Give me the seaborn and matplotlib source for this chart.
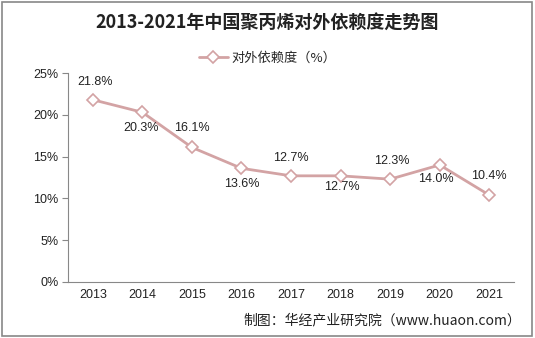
import matplotlib
matplotlib.use("Agg")
import matplotlib.pyplot as plt
import seaborn as sns
import pandas as pd
from matplotlib.patches import Rectangle

years = ["2013", "2014", "2015", "2016", "2017", "2018", "2019", "2020", "2021"]
values = [21.8, 20.3, 16.1, 13.6, 12.7, 12.7, 12.3, 14.0, 10.4]
y_ticks = [0, 5, 10, 15, 20, 25]
series_name = "对外依赖度（%）"
title = "2013-2021年中国聚丙烯对外依赖度走势图"
source = "制图：华经产业研究院（www.huaon.com）"

# label offsets in points (dx, dy)
offsets = [(2, 13), (-1, -11), (0, 14), (0, -11), (0, 13), (1, -8), (1, 13), (-3, -10), (0, 14)]

sns.set_theme(style="white")
plt.rcParams['font.family'] = ['Noto Sans CJK SC', 'DejaVu Sans']
num_font = ['Liberation Sans', 'DejaVu Sans']

fig = plt.figure(figsize=(5.35, 3.38), dpi=100)
ax = fig.add_axes([68/535, 1-282/338, (514-68)/535, (282-73)/338])

df = pd.DataFrame({"year": years, "value": values})
df["x"] = range(len(years))
color = "#d3a3a4"
sns.lineplot(data=df, x="x", y="value", ax=ax, color=color, linewidth=2.0,
             marker="D", markersize=6, markerfacecolor="white",
             markeredgecolor=color, markeredgewidth=1.2, label=series_name, legend=False)

for i, v in enumerate(values):
    dx, dy = offsets[i]
    ax.annotate(f"{v:.1f}%", (i, v), xytext=(dx, dy), textcoords="offset points",
                ha="center", va="center", fontsize=9, color="#222222",
                family=num_font)

ax.set_xlim(-0.5, len(years) - 0.5)
ax.set_ylim(0, 25)
ax.set_yticks(y_ticks)
ax.set_yticklabels([f"{t}%" for t in y_ticks], fontsize=9, color="#222222", family=num_font)
ax.set_xticks(range(len(years)))
ax.set_xticklabels(years, fontsize=9, color="#222222", family=num_font)
ax.set_xticks([i - 0.5 for i in range(len(years) + 1)], minor=True)
ax.tick_params(axis="x", which="major", length=0, pad=5)
ax.tick_params(axis="x", which="minor", length=4, color="#888888", width=0.8, direction="out")
ax.tick_params(axis="y", which="major", length=4, color="#888888", width=0.8, direction="out", left=True, pad=3)
ax.set_xlabel("")
ax.set_ylabel("")
for s in ["top", "right"]:
    ax.spines[s].set_visible(False)
for s in ["left", "bottom"]:
    ax.spines[s].set_color("#888888")
    ax.spines[s].set_linewidth(0.8)
ax.grid(False)

handles, labels = ax.get_legend_handles_labels()
fig.legend(handles, labels, loc="center", bbox_to_anchor=(0.5, 1-58/338), frameon=False,
           handlelength=2.2, handletextpad=0.3,
           prop={'family': ['Noto Sans CJK SC', 'DejaVu Sans'], 'size': 9.5})

fig.text(0.5, 1-22/338, title, ha="center", va="center", fontsize=13, fontweight="bold", color="#222222")
fig.text(521/535, 1-320/338, source, ha="right", va="center", fontsize=10, color="#222222")

fig.patches.append(Rectangle((0.004, 0.006), 0.99, 0.988, transform=fig.transFigure,
                             fill=False, edgecolor="#888888", linewidth=1.2))

fig.savefig("out.png", dpi=100)
